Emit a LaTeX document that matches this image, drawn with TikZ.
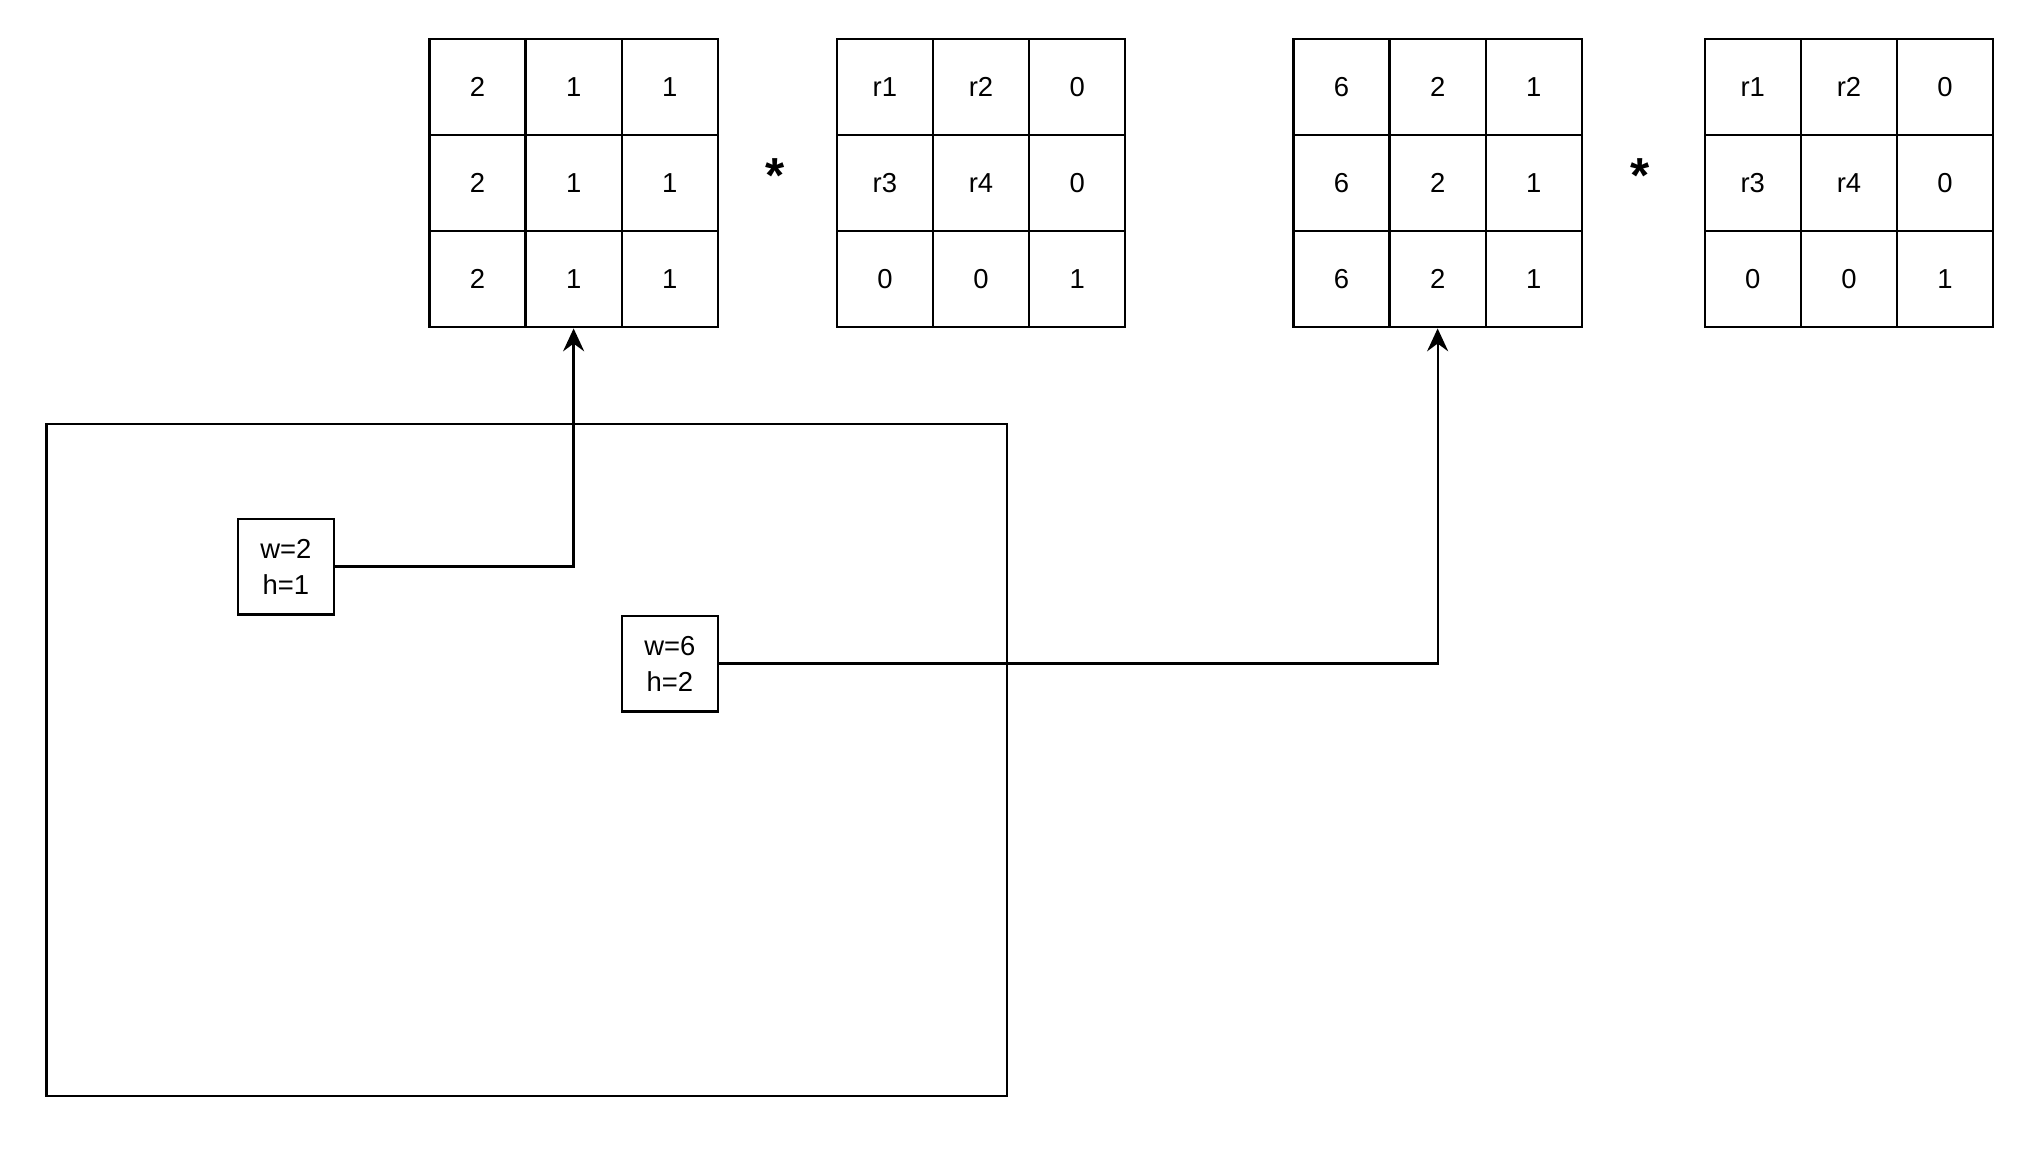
\documentclass[tikz,border=0pt]{standalone}
\usepackage{fontspec}
\setmainfont{Liberation Sans}
\usetikzlibrary{arrows.meta}

\tikzset{
  cell/.style={draw, line width=0.65pt, minimum size=0.9615cm, inner sep=0pt,
    font=\fontsize{7.8}{9.4}\selectfont},
  sizebox/.style={draw, line width=0.65pt, minimum size=0.957cm, inner sep=0pt,
    align=center, font=\fontsize{7.8}{10.2}\selectfont},
  times/.style={inner sep=0pt, anchor=base, font=\fontsize{14}{14}\selectfont\bfseries},
  link/.style={line width=0.65pt, -{Stealth[length=6.5pt,width=6pt,inset=2.2pt]}},
}

\begin{document}
\begin{tikzpicture}[x=0.01cm, y=-0.01cm]
  \useasboundingbox (0,0) rectangle (2028,1150);

  % image frame
  \node[draw, line width=0.65pt, anchor=north west, minimum width=9.597cm,
    minimum height=6.713cm, inner sep=0pt] (frame) at (45.3,422.9) {};

  % the four 3x3 matrices
  \foreach \g/\gx/\vals in {
      ga/429.4/{2,1,1,2,1,1,2,1,1},
      ra/836.8/{r1,r2,0,r3,r4,0,0,0,1},
      gb/1293.4/{6,2,1,6,2,1,6,2,1},
      rb/1704.7/{r1,r2,0,r3,r4,0,0,0,1}}
    \foreach \v [count=\k from 0] in \vals {
      \pgfmathtruncatemacro\row{\k/3}
      \pgfmathtruncatemacro\col{\k-3*\row}
      \node[cell] (\g-\row-\col) at (\gx+48.07+\col*96.15, 86.9+\row*96.15) {\v};
    }

  \node[times] (ta) at (774.7,192) {*};
  \node[times] (tb) at (1640,192) {*};

  % scale boxes
  \node[sizebox] (sa) at (285.8,566.5) {w=2\\h=1};
  \node[sizebox] (sb) at (669.9,663.5) {w=6\\h=2};

  \draw[link] (sa.east) -| (ga-2-1.south);
  \draw[link] (sb.east) -| (gb-2-1.south);
\end{tikzpicture}
\end{document}
